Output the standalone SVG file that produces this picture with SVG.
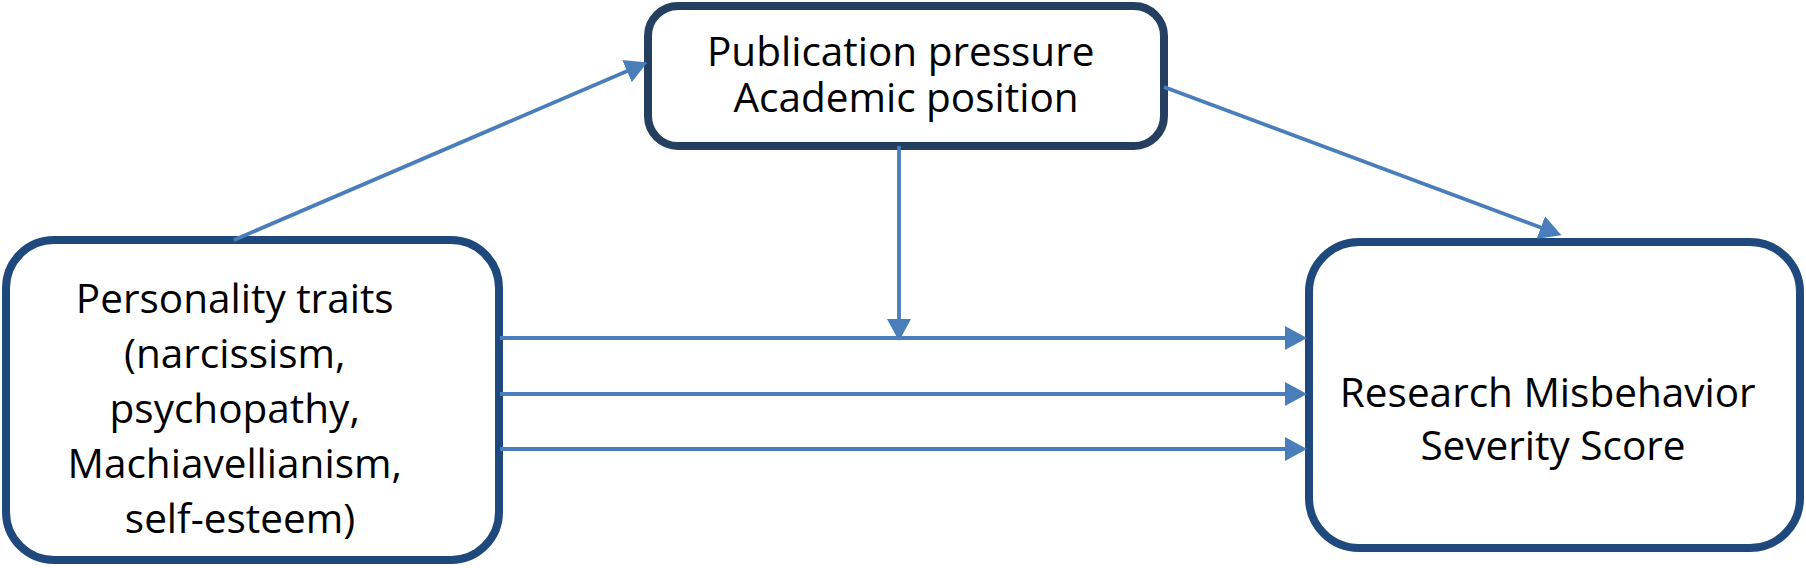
<svg xmlns="http://www.w3.org/2000/svg" width="1806" height="568" viewBox="0 0 1806 568">
  <style>
    .box { fill: #ffffff; stroke: #1F497D; stroke-width: 8; }
    .box-dark { stroke: #243F60; }
    .lbl { font-family: "Open Sans", "Liberation Sans", sans-serif; font-size: 40.5px; fill: #000000; text-anchor: middle; }
    .conn { stroke: #4A7EBB; stroke-width: 3.8; fill: none; marker-end: url(#arrow); }
  </style>
  <defs>
    <marker id="arrow" markerUnits="userSpaceOnUse" markerWidth="22" markerHeight="24" viewBox="0 0 22 24" refX="13" refY="12" orient="auto">
      <path d="M0,0 L22,12 L0,24 z" fill="#4A7EBB"/>
    </marker>
  </defs>
  <rect width="1806" height="568" fill="#ffffff"/>

  <g id="node-personality">
    <rect class="box" x="6" y="240" width="493" height="320" rx="48" ry="48"/>
    <text class="lbl">
      <tspan x="240" y="313">Personality traits</tspan>
      <tspan x="240" y="368">(narcissism,</tspan>
      <tspan x="240" y="423">psychopathy,</tspan>
      <tspan x="240" y="478">Machiavellianism,</tspan>
      <tspan x="240" y="533">self-esteem)</tspan>
    </text>
  </g>

  <g id="node-pressure">
    <rect class="box box-dark" x="648" y="6" width="516" height="140" rx="30" ry="30"/>
    <text class="lbl">
      <tspan x="906" y="66">Publication pressure</tspan>
      <tspan x="906" y="112">Academic position</tspan>
    </text>
  </g>

  <g id="node-misbehavior">
    <rect class="box" x="1309" y="242" width="491" height="306" rx="50" ry="50"/>
    <text class="lbl">
      <tspan x="1553" y="407">Research Misbehavior</tspan>
      <tspan x="1553" y="460">Severity Score</tspan>
    </text>
  </g>

  <g id="connectors">
    <line class="conn" x1="234" y1="240" x2="639" y2="66"/>
    <line class="conn" x1="1164" y1="87" x2="1553" y2="232"/>
    <line class="conn" x1="899" y1="146" x2="899" y2="332"/>
    <line class="conn" x1="500" y1="338" x2="1298" y2="338"/>
    <line class="conn" x1="500" y1="394" x2="1298" y2="394"/>
    <line class="conn" x1="500" y1="449" x2="1298" y2="449"/>
  </g>
</svg>
